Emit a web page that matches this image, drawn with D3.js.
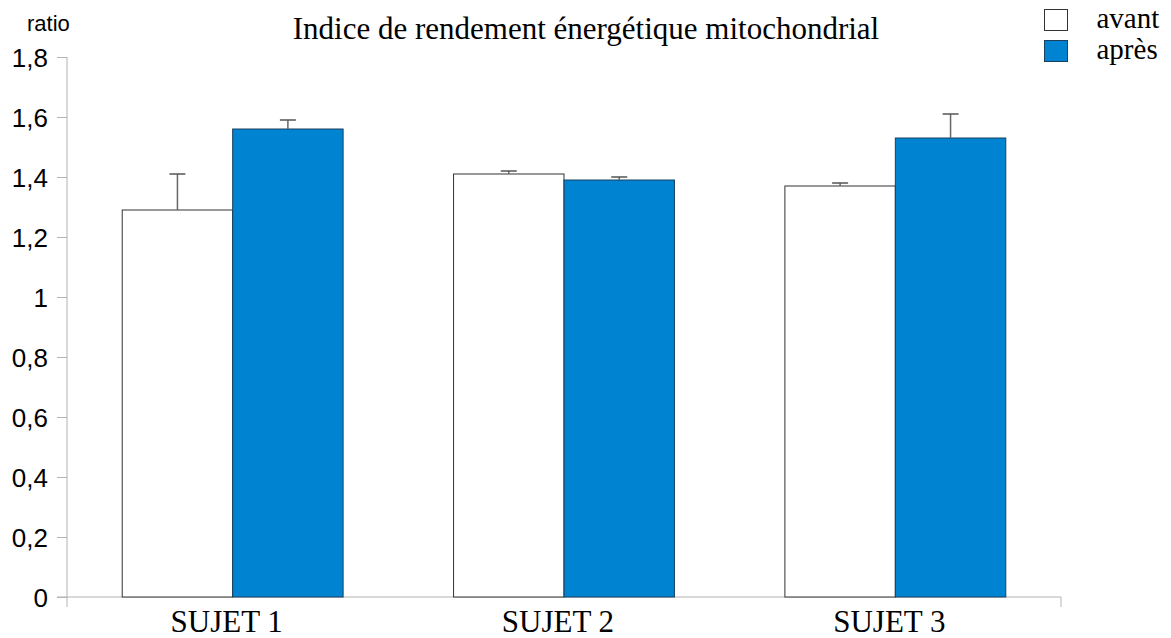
<!DOCTYPE html>
<html>
<head>
<meta charset="utf-8">
<script src="https://d3js.org/d3.v7.min.js"></script>
<style>
  * { margin: 0; padding: 0; }
  body { background: #fff; }
  .serif { font-family: "Liberation Serif", "Times New Roman", serif; }
  .sans { font-family: "Liberation Sans", Arial, sans-serif; }
</style>
</head>
<body>
<div id="chart"></div>
<script>
const categories = ["SUJET 1", "SUJET 2", "SUJET 3"];
const series = ["avant", "après"];
const avant = [1.29, 1.41, 1.37];
const apres = [1.56, 1.39, 1.53];
const avantErr = [0.12, 0.01, 0.01];
const apresErr = [0.03, 0.01, 0.08];
const yTicks = [0, 0.2, 0.4, 0.6, 0.8, 1, 1.2, 1.4, 1.6, 1.8];
const colors = ["#ffffff", "#0084d1"];

const width = 1171, height = 638;
const mLeft = 67, mRight = 1061, mTop = 57, mBottom = 597;

const svg = d3.select("#chart").append("svg")
  .attr("width", width).attr("height", height);

const x = d3.scaleBand().domain(categories).range([mLeft, mRight]).paddingInner(0).paddingOuter(0);
const xSub = d3.scaleBand().domain(series).range([0, x.bandwidth()]).paddingInner(0).paddingOuter(0.5);
const y = d3.scaleLinear().domain([0, 1.8]).range([mBottom, mTop]);

const fmt = d => d3.format(".1f")(d).replace(".0", "").replace(".", ",");

// y axis
const yAxis = d3.axisLeft(y).tickValues(yTicks).tickFormat(fmt).tickSize(10).tickPadding(9).tickSizeOuter(0);
const gy = svg.append("g").attr("transform", `translate(${mLeft},0)`).call(yAxis);
gy.select(".domain").attr("stroke", "#b3b3b3").attr("d", `M0,${mTop}V${mBottom + 10}`);
gy.selectAll(".tick line").attr("stroke", "#b3b3b3");
gy.selectAll(".tick text").attr("class", "sans").attr("font-size", 26).attr("fill", "#000").attr("dy", "0.36em");

// x axis line, tick only at the right end
const gx = svg.append("g");
gx.append("line").attr("x1", mLeft - 10).attr("x2", mRight).attr("y1", mBottom).attr("y2", mBottom).attr("stroke", "#b3b3b3");
gx.append("line").attr("x1", mRight).attr("x2", mRight)
  .attr("y1", mBottom).attr("y2", mBottom + 10).attr("stroke", "#b3b3b3");
gx.selectAll(".cat").data(categories).enter().append("text")
  .attr("class", "serif")
  .attr("x", d => x(d) + x.bandwidth() / 2 - 6)
  .attr("y", 632)
  .attr("text-anchor", "middle")
  .attr("font-size", 31)
  .text(d => d);

// bars
const rows = [];
categories.forEach((c, i) => {
  rows.push({ c, s: "avant", v: avant[i], e: avantErr[i], k: 0 });
  rows.push({ c, s: "après", v: apres[i], e: apresErr[i], k: 1 });
});

svg.selectAll(".bar").data(rows).enter().append("rect")
  .attr("x", d => x(d.c) + xSub(d.s))
  .attr("y", d => y(d.v))
  .attr("width", xSub.bandwidth())
  .attr("height", d => y(0) - y(d.v))
  .attr("fill", d => colors[d.k])
  .attr("stroke", d => d.k ? "#1c3f5e" : "#333")
  .attr("stroke-width", 1);

// error bars
const eb = svg.selectAll(".err").data(rows).enter().append("g");
eb.append("line")
  .attr("x1", d => x(d.c) + xSub(d.s) + xSub.bandwidth() / 2)
  .attr("x2", d => x(d.c) + xSub(d.s) + xSub.bandwidth() / 2)
  .attr("y1", d => y(d.v)).attr("y2", d => y(d.v + d.e))
  .attr("stroke", "#666").attr("stroke-width", 1.5);
eb.append("line")
  .attr("x1", d => x(d.c) + xSub(d.s) + xSub.bandwidth() / 2 - 8)
  .attr("x2", d => x(d.c) + xSub(d.s) + xSub.bandwidth() / 2 + 8)
  .attr("y1", d => y(d.v + d.e)).attr("y2", d => y(d.v + d.e))
  .attr("stroke", "#555").attr("stroke-width", 1.5);

// title
svg.append("text").attr("class", "serif")
  .attr("x", 586).attr("y", 39).attr("text-anchor", "middle")
  .attr("font-size", 31).text("Indice de rendement énergétique mitochondrial");

svg.append("text").attr("class", "sans")
  .attr("x", 27).attr("y", 31).attr("font-size", 22).text("ratio");

// legend
const lg = svg.append("g").selectAll("g").data(series).enter().append("g")
  .attr("transform", (d, i) => `translate(1044.5,${9.5 + i * 31})`);
lg.append("rect").attr("width", 23).attr("height", 21)
  .attr("fill", (d, i) => colors[i])
  .attr("stroke", (d, i) => i ? "#1c3f5e" : "#333");
lg.append("text").attr("class", "serif")
  .attr("x", 52).attr("y", 18).attr("font-size", 29).text(d => d);
</script>
</body>
</html>
